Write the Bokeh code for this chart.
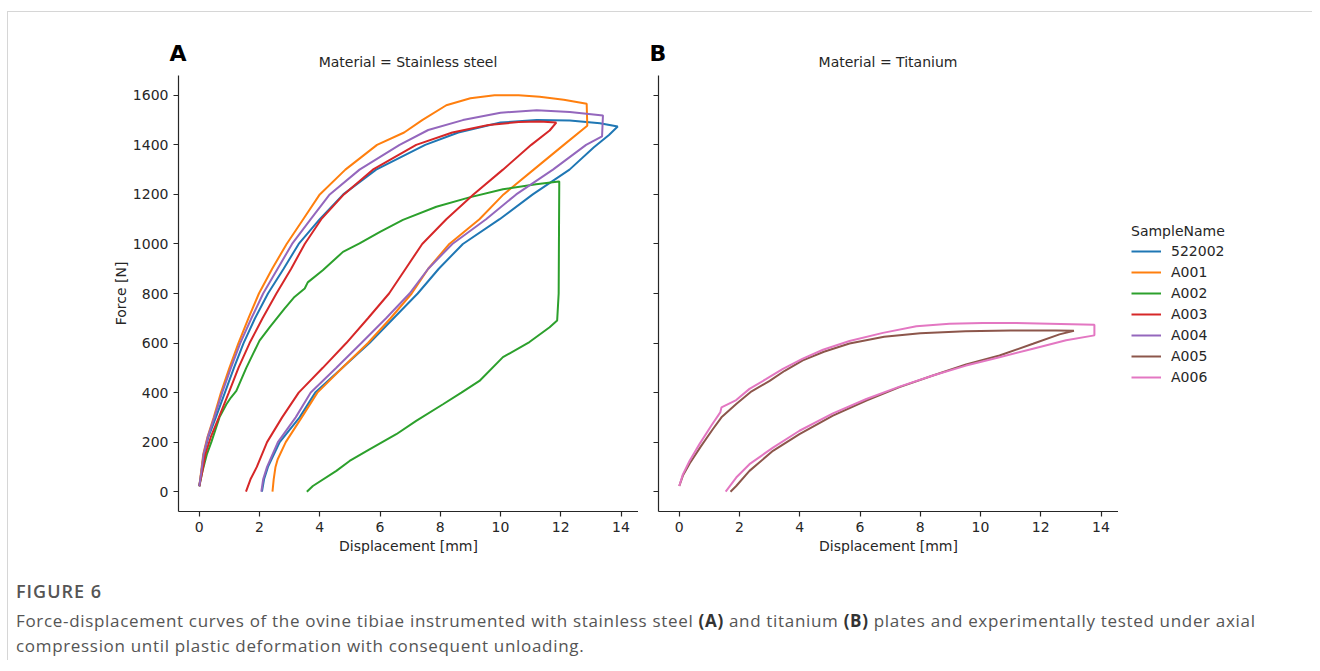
from bokeh.plotting import figure
from bokeh.models import Range1d, FixedTicker, Legend, LegendItem, Div
from bokeh.layouts import row, column
from bokeh.embed import file_html
from bokeh.resources import INLINE

# ---------------- data ----------------
sample_names = ["522002", "A001", "A002", "A003", "A004", "A005", "A006"]
sample_colors = ["#1f77b4", "#ff7f0e", "#2ca02c", "#d62728", "#9467bd", "#8c564b", "#e377c2"]

x_ticks = [0, 2, 4, 6, 8, 10, 12, 14]
y_ticks = [0, 200, 400, 600, 800, 1000, 1200, 1400, 1600]

panel_letters = ["A", "B"]
panel_titles = ["Material = Stainless steel", "Material = Titanium"]

# Stainless steel
s522002_x = [0, 0.07, 0.15, 0.3, 0.55, 0.85, 1.15, 1.47, 1.85, 2.28, 2.8, 3.3, 4.0, 4.78, 5.87, 7.5, 8.6, 10.0, 11.2, 12.3, 13.3, 13.89,
             13.6, 13.1, 12.29, 11.07, 9.97, 8.75, 7.95, 7.25, 6.45, 5.65, 4.75, 3.85, 3.33, 2.67, 2.28, 2.15, 2.08]
s522002_y = [22, 80, 150, 220, 300, 400, 500, 600, 700, 800, 900, 1000, 1100, 1200, 1300, 1400, 1450, 1490, 1500, 1498, 1487, 1474,
             1440, 1390, 1300, 1200, 1100, 1000, 900, 800, 700, 600, 500, 400, 300, 200, 100, 50, 0]

a001_x = [0, 0.06, 0.13, 0.27, 0.48, 0.72, 1.0, 1.3, 1.63, 1.98, 2.42, 2.9, 3.45, 4.0, 4.85, 5.9, 6.8, 7.4, 8.2, 9.0, 9.8, 10.6, 11.3, 12.1, 12.86, 12.88,
          12.1, 11.1, 10.1, 9.3, 8.3, 7.6, 7.05, 6.35, 5.6, 4.75, 3.92, 3.4, 2.87, 2.6, 2.53, 2.47, 2.43]
a001_y = [22, 80, 150, 220, 300, 400, 500, 600, 700, 800, 900, 1000, 1100, 1200, 1300, 1400, 1450, 1500, 1560, 1588, 1600, 1600, 1594, 1582, 1566, 1477,
          1400, 1300, 1200, 1100, 1000, 900, 800, 700, 600, 500, 400, 300, 200, 130, 100, 50, 0]

a002_x = [0, 0.1, 0.25, 0.4, 0.67, 0.9, 1.05, 1.23, 1.56, 2.0, 2.34, 2.83, 3.16, 3.5, 3.6, 4.1, 4.77, 5.32, 6.0, 6.76, 7.87, 8.97, 10.08, 11.18, 11.94,
          11.95, 11.93, 11.88,
          11.63, 10.96, 10.08, 9.3, 8.7, 8.09, 7.2, 6.54, 5.65, 4.99, 4.55, 3.77, 3.57]
a002_y = [22, 80, 150, 200, 300, 353, 380, 407, 500, 610, 664, 739, 786, 820, 845, 894, 968, 1002, 1049, 1097, 1150, 1188, 1221, 1241, 1252,
          1252, 800, 691,
          664, 604, 543, 447, 400, 353, 286, 232, 171, 124, 84, 23, 0]

a003_x = [0, 0.1, 0.2, 0.38, 0.65, 0.98, 1.3, 1.67, 2.1, 2.56, 3.05, 3.5, 4.05, 4.8, 5.76, 7.2, 8.4, 9.6, 10.6, 11.3, 11.85,
          11.63, 11.02, 10.08, 9.1, 8.2, 7.4, 6.85, 6.3, 5.6, 4.88, 4.1, 3.3, 2.75, 2.25, 1.91, 1.7, 1.55]
a003_y = [22, 80, 150, 220, 300, 400, 500, 600, 700, 800, 900, 1000, 1100, 1200, 1300, 1400, 1450, 1480, 1492, 1494, 1490,
          1458, 1400, 1300, 1200, 1100, 1000, 900, 800, 700, 600, 500, 400, 300, 200, 100, 50, 0]

a004_x = [0, 0.07, 0.14, 0.28, 0.5, 0.76, 1.05, 1.36, 1.73, 2.12, 2.6, 3.08, 3.7, 4.33, 5.32, 6.65, 7.6, 8.75, 10.0, 11.2, 12.3, 13.4, 13.37,
          12.84, 11.74, 10.52, 9.52, 8.4, 7.6, 6.98, 6.2, 5.38, 4.55, 3.7, 3.2, 2.61, 2.25, 2.12, 2.06]
a004_y = [22, 80, 150, 220, 300, 400, 500, 600, 700, 800, 900, 1000, 1100, 1200, 1300, 1400, 1460, 1500, 1530, 1540, 1533, 1519, 1434,
          1400, 1300, 1200, 1100, 1000, 900, 800, 700, 600, 500, 400, 300, 200, 100, 50, 0]

# Titanium
a005_x = [0, 0.12, 0.35, 0.7, 1.1, 1.4, 1.9, 2.4, 3.0, 3.5, 4.1, 4.8, 5.65, 6.8, 8.0, 9.5, 11.0, 12.5, 13.1,
          12.62, 11.74, 10.63, 9.52, 8.42, 7.31, 6.21, 5.1, 3.99, 3.11, 2.33, 1.89, 1.7]
a005_y = [23, 65, 115, 180, 250, 300, 355, 405, 447, 488, 530, 565, 598, 625, 640, 648, 651, 651, 650,
          635, 597, 550, 514, 469, 422, 368, 307, 232, 165, 84, 23, 0]

a006_x = [0, 0.12, 0.34, 0.67, 1.06, 1.36, 1.4, 1.89, 2.33, 2.89, 3.44, 4.1, 4.77, 5.65, 6.76, 7.87, 8.97, 10.08, 11.18, 12.29, 13.78, 13.78,
          12.84, 11.74, 10.63, 9.52, 8.42, 7.31, 6.21, 5.1, 3.99, 3.11, 2.33, 1.89, 1.54]
a006_y = [23, 70, 124, 192, 266, 320, 340, 370, 415, 455, 496, 537, 573, 608, 641, 668, 678, 681, 681, 678, 674, 631,
          611, 577, 543, 509, 469, 424, 374, 316, 246, 178, 111, 57, 0]

steel_series = [("522002", s522002_x, s522002_y), ("A001", a001_x, a001_y), ("A002", a002_x, a002_y),
                ("A003", a003_x, a003_y), ("A004", a004_x, a004_y)]
titan_series = [("A005", a005_x, a005_y), ("A006", a006_x, a006_y)]

# ---------------- styling ----------------
FONT = "DejaVu Sans"
TXT = "#262626"
ORIGIN_X, ORIGIN_Y = 8, 12      # page position where content starts (margin + border)
SPINE_A, SPINE_B = 178, 658     # page x of the left spines
FRAME_TOP, FRAME_BOTTOM = 75, 511
AX_W = 460
BOTTOM = 57
X_RANGE = (-0.69, 14.58)
Y_RANGE = (-80, 1680)
HEADER_H = FRAME_TOP - ORIGIN_Y


def make_panel(series, left_border, show_labels):
    p = figure(width=left_border + AX_W, height=FRAME_BOTTOM - FRAME_TOP + BOTTOM,
               x_range=Range1d(*X_RANGE), y_range=Range1d(*Y_RANGE),
               output_backend="svg", toolbar_location=None,
               min_border_left=left_border, min_border_right=0,
               min_border_top=0, min_border_bottom=BOTTOM)
    p.outline_line_color = None
    p.grid.visible = False
    for ax in (p.xaxis[0], p.yaxis[0]):
        ax.axis_line_color = TXT
        ax.axis_line_width = 1.2
        ax.major_tick_line_color = TXT
        ax.major_tick_line_width = 1.2
        ax.major_tick_out = 5
        ax.major_tick_in = 0
        ax.minor_tick_line_color = None
        ax.major_label_text_font = FONT
        ax.major_label_text_font_size = "14px"
        ax.major_label_text_color = TXT
        ax.axis_label_text_font = FONT
        ax.axis_label_text_font_size = "14px"
        ax.axis_label_text_font_style = "normal"
        ax.axis_label_text_color = TXT
        ax.major_label_standoff = 5
    p.xaxis.ticker = FixedTicker(ticks=x_ticks)
    p.yaxis.ticker = FixedTicker(ticks=y_ticks)
    p.xaxis.axis_label = "Displacement [mm]"
    p.xaxis.axis_label_standoff = 3
    if show_labels:
        p.yaxis.axis_label = "Force [N]"
        p.yaxis.axis_label_standoff = 1
    else:
        p.yaxis.major_label_overrides = {t: "" for t in y_ticks}
    for name, xs, ys in series:
        c = sample_colors[sample_names.index(name)]
        p.line(xs, ys, line_color=c, line_width=2)
    return p


pa = make_panel(steel_series, SPINE_A - ORIGIN_X, True)
pb = make_panel(titan_series, SPINE_B - ORIGIN_X - pa.width, False)

# legend panel
leg_w = 1312 - ORIGIN_X - pa.width - pb.width
leg = figure(width=leg_w, height=pa.height,
             x_range=Range1d(0, 1), y_range=Range1d(0, 1),
             output_backend="svg", toolbar_location=None, min_border=0)
leg.axis.visible = False
leg.grid.visible = False
leg.outline_line_color = None
items = []
for name, c in zip(sample_names, sample_colors):
    r = leg.line(x=[-5, -4], y=[-5, -4], line_color=c, line_width=2)
    items.append(LegendItem(label=name, renderers=[r]))
legend = Legend(items=items, location=(8, 120), title="SampleName",
                title_text_font=FONT, title_text_font_size="14px", title_text_font_style="normal",
                title_text_color=TXT, title_standoff=3,
                label_text_font=FONT, label_text_font_size="14px", label_text_color=TXT,
                glyph_width=30, glyph_height=18, label_height=18, spacing=3,
                label_standoff=10, padding=5, margin=0,
                border_line_alpha=0, background_fill_alpha=0)
leg.add_layout(legend)

# header with panel letters and facet titles
header_parts = []
for letter, title, spine in zip(panel_letters, panel_titles, (SPINE_A, SPINE_B)):
    lx = spine - ORIGIN_X
    cx = lx + AX_W / 2
    header_parts.append(
        f"<div style=\"position:absolute;left:{lx - 30}px;top:31px;width:60px;text-align:center;"
        f"font-family:'{FONT}';font-size:22px;font-weight:bold;line-height:22px;color:#000;\">{letter}</div>")
    header_parts.append(
        f"<div style=\"position:absolute;left:{cx - 200}px;top:43px;width:400px;text-align:center;"
        f"font-family:'{FONT}';font-size:14px;line-height:14px;color:{TXT};white-space:nowrap;\">{title}</div>")
header = Div(text="<div style=\"position:relative;width:1300px;height:%dpx;\">%s</div>" % (HEADER_H, "".join(header_parts)),
             width=1312 - ORIGIN_X, height=HEADER_H, margin=0)

caption_html = (
    "<div style=\"font-family:'Open Sans',sans-serif;color:#555555;\">"
    "<div style=\"font-size:18px;font-weight:600;line-height:20px;margin-top:13px;padding-left:8px;letter-spacing:1px;\">FIGURE 6</div>"
    "<div style=\"font-size:17px;line-height:25px;margin-top:7px;padding-left:8px;white-space:nowrap;letter-spacing:0.68px;\">"
    "Force-displacement curves of the ovine tibiae instrumented with stainless steel <b style=\"color:#333\">(A)</b> "
    "and titanium <b style=\"color:#333\">(B)</b> plates and experimentally tested under axial<br>"
    "compression until plastic deformation with consequent unloading.</div></div>"
)
caption = Div(text=caption_html, width=1312 - ORIGIN_X, height=92, margin=0)

page = column(header, row(pa, pb, leg), caption,
              styles={"border-top": "1px solid #d6d6d6", "border-left": "1px solid #d6d6d6",
                      "margin-left": "7px", "margin-top": "11px"})

open("out.html", "w").write(file_html(page, INLINE))
